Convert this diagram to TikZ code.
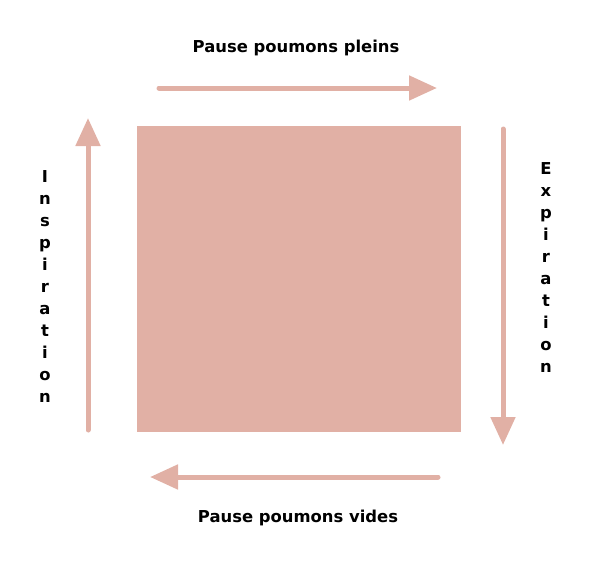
\documentclass[tikz,border=0pt]{standalone}
\usepackage{fontspec}
\setmainfont{DejaVu Sans}
\usetikzlibrary{positioning, arrows.meta}
\definecolor{souffle}{RGB}{225,176,165}
\tikzset{
Breath/.style = {
line width = 3.75pt, souffle, line cap = round,
-{Triangle[length = 21pt, width = 18pt]}
}
}

\begin{document}
\begin{tikzpicture}[x = 0.75pt, y = -0.75pt,
				label/.style = {font = \bfseries\fontsize{12.3}{16.5}\selectfont, text = black, inner sep = 0pt},
				vword/.style = {label, align = center},
			]
			\useasboundingbox (0,0) rectangle (600,564);
			\fill[souffle] (137,126) rectangle (461,432);

			\coordinate(T1) at (159,88);
			\coordinate(T2) at (437,88);
			\coordinate(R1) at (503,129);
			\coordinate(R2) at (503,445);
			\coordinate(B1) at (438,477);
			\coordinate(B2) at (150,477);
			\coordinate(L1) at (88,430);
			\coordinate(L2) at (88,118);

			\node[label](full) at (296,48) {Pause poumons pleins};
			\node[label](empty) at (298,518) {Pause poumons vides};
			\node[vword](insp) at (45,287) {I\\n\\s\\p\\i\\r\\a\\t\\i\\o\\n};
			\node[vword](expi) at (546,268) {E\\x\\p\\i\\r\\a\\t\\i\\o\\n};

			\draw[Breath](T1)--(T2);
			\draw[Breath](R1)--(R2);
			\draw[Breath](B1)--(B2);
			\draw[Breath](L1)--(L2);
		\end{tikzpicture}
\end{document}
